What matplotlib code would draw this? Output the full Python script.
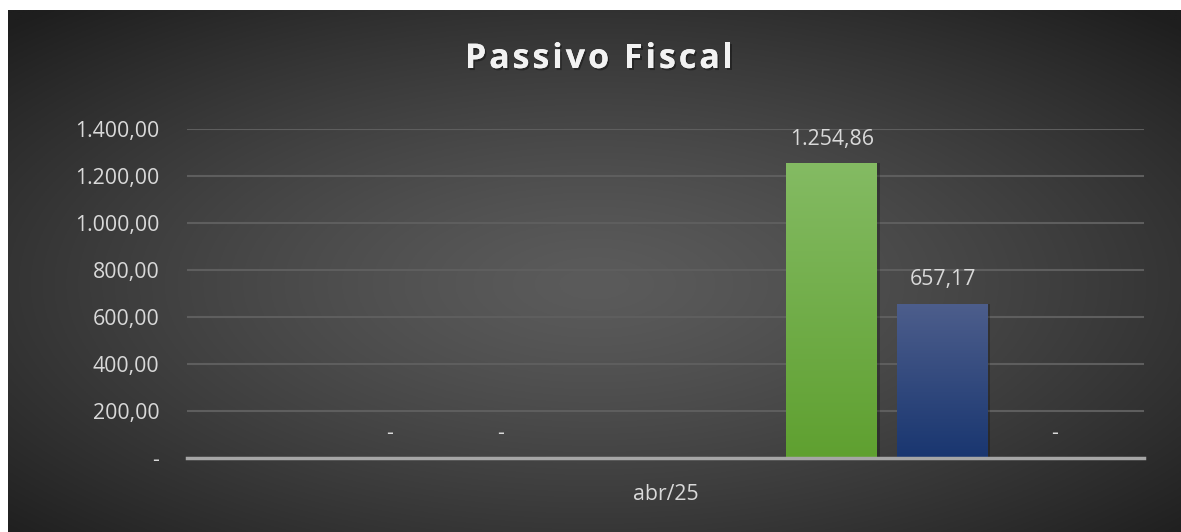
import numpy as np
import matplotlib
matplotlib.use("Agg")
import matplotlib.pyplot as plt
from matplotlib.patches import Rectangle
import matplotlib.patheffects as pe

# ---------------- data ----------------
title = "Passivo Fiscal"
category = "abr/25"
series_values = [np.nan, 0.0, 0.0, np.nan, np.nan, 1254.86, 657.17, 0.0]
yticks = [0, 200, 400, 600, 800, 1000, 1200, 1400]
ytick_labels = ["-", "200,00", "400,00", "600,00", "800,00", "1.000,00", "1.200,00", "1.400,00"]
value_labels = ["", "-", "-", "", "", "1.254,86", "657,17", "-"]

FONT = ["Open Sans", "DejaVu Sans"]
W, H = 1181, 532
fig = plt.figure(figsize=(W / 100, H / 100), dpi=100)
fig.patch.set_facecolor("white")

# background (chart area) with radial gradient
x0, y0 = 8, 10  # px offset of chart area from left/top
bg = fig.add_axes([x0 / W, 0, (W - x0) / W, (H - y0) / H])
bg.set_axis_off()
gx = np.linspace(-1, 1, 600)
gy = np.linspace(-1, 1, 300)
XX, YY = np.meshgrid(gx, gy)
R = np.sqrt(XX ** 2 + (YY + 0.05) ** 2) / np.sqrt(2)
R = np.clip(R, 0, 1)
c_in = np.array([0x5b, 0x5b, 0x5b]) / 255
c_out = np.array([0x1e, 0x1e, 0x1e]) / 255
t = R[..., None] ** 1.3
img = c_in * (1 - t) + c_out * t
bg.imshow(img, extent=[0, 1, 0, 1], aspect="auto", origin="lower")
bg.set_xlim(0, 1)
bg.set_ylim(0, 1)

# plot axes: x from 187 to 1144 px, y: 1400 at 129 px, 0 at 458 px
ax_l, ax_r = 187, 1144
y_top, y_zero = 129, 458
ax = fig.add_axes([ax_l / W, 1 - y_zero / H, (ax_r - ax_l) / W, (y_zero - y_top) / H])
ax.patch.set_alpha(0)
n = len(series_values)
pos = np.arange(n)
margin = 0.815
ax.set_xlim(-margin, n - 1 + margin)
ax.set_ylim(0, 1400)

for s in ax.spines.values():
    s.set_visible(False)
FS = 15.3
ax.set_yticks(yticks)
ax.set_yticklabels(ytick_labels, fontsize=FS, color="#d9d9d9", family=FONT)
ax.tick_params(axis="y", length=0, pad=20)
ax.set_xticks([(n - 1) / 2])
ax.set_xticklabels([category], fontsize=FS, color="#d9d9d9", family=FONT)
ax.tick_params(axis="x", length=0, pad=19)
for yv in yticks[1:]:
    ax.axhline(yv, color="#5e5e5e", lw=1.5, zorder=1)

bar_w = 0.82
grad_colors = {
    5: ("#84bb63", "#5fa030"),
    6: ("#4d5e8c", "#193670"),
}
for i, v in enumerate(series_values):
    if np.isnan(v) or v == 0:
        continue
    top, bot = grad_colors[i]
    sh = Rectangle((pos[i] - bar_w / 2 + 0.02, 0), bar_w, v, facecolor="black",
                   alpha=0.25, zorder=2, lw=0)
    ax.add_patch(sh)
    bars = ax.bar(pos[i], v, width=bar_w, color=top, zorder=3, lw=0)
    patch = bars[0]
    ct = np.array(matplotlib.colors.to_rgb(top))
    cb = np.array(matplotlib.colors.to_rgb(bot))
    tt = np.linspace(0, 1, 256)[:, None]
    grad = (cb * (1 - tt) + ct * tt)[:, None, :]
    im = ax.imshow(grad, extent=[pos[i] - bar_w / 2, pos[i] + bar_w / 2, 0, v],
                   origin="lower", aspect="auto", zorder=3.5)
    im.set_clip_path(patch)

ax.set_xlim(-margin, n - 1 + margin)
ax.set_ylim(0, 1400)
ax.axhline(0, color="#a6a6a6", lw=2.5, zorder=4, clip_on=False)

# value labels
for i, (v, lab) in enumerate(zip(series_values, value_labels)):
    if not lab:
        continue
    vv = 0 if np.isnan(v) else v
    ax.annotate(lab, (pos[i], vv), xytext=(1 if lab == "-" else 0, 24 * 0.72),
                textcoords="offset points", ha="center", va="center", fontsize=FS,
                color="#d9d9d9", family=FONT, zorder=5)

# title with letter spacing
fig.canvas.draw()
renderer = fig.canvas.get_renderer()
title_kw = dict(fontsize=24.5, fontweight="bold", color="#f2f2f2", family=FONT,
                va="center", ha="left",
                path_effects=[pe.withSimplePatchShadow(offset=(1.2, -1.5), shadow_rgbFace="black", alpha=0.35),
                              pe.Normal()])
spacing = 3.0  # px
widths = []
for ch in title:
    if ch == " ":
        tmp = fig.text(0, 0, "a a", **title_kw)
        w1 = tmp.get_window_extent(renderer).width
        tmp.set_text("aa")
        w2 = tmp.get_window_extent(renderer).width
        tmp.remove()
        widths.append(w1 - w2)
    else:
        tmp = fig.text(0, 0, ch, **title_kw)
        widths.append(tmp.get_window_extent(renderer).width)
        tmp.remove()
total = sum(widths) + spacing * (len(title) - 1)
cx = 599
xs = cx - total / 2
for ch, w in zip(title, widths):
    if ch != " ":
        fig.text(xs / W, 1 - 59 / H, ch, **title_kw)
    xs += w + spacing

fig.savefig("out.png", dpi=100, facecolor=fig.get_facecolor())
